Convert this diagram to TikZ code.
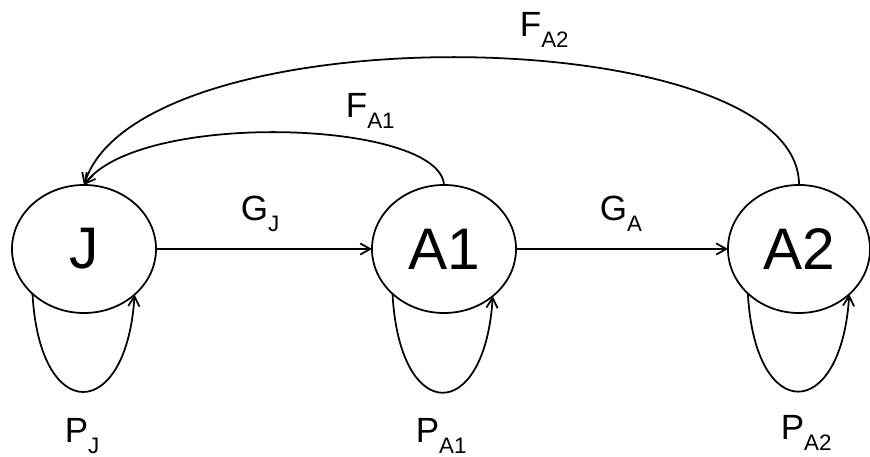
\documentclass[tikz,border=0pt]{standalone}
\usepackage{fontspec}
\setmainfont{Liberation Sans}
\usetikzlibrary{arrows.meta, shapes.geometric}

\newcommand{\subtxt}[2]{#1\raisebox{-7.5pt}{\fontsize{15.9}{16}\selectfont #2}}

\begin{document}
\begin{tikzpicture}[x=0.025cm, y=-0.025cm, line width=1.25pt,
    state/.style={ellipse, draw, minimum width=3.6cm, minimum height=3.2cm,
      inner sep=0pt, outer sep=0pt, font=\fontsize{41.7}{42}\selectfont},
    flow/.style={-{Straight Barb[length=2.5mm,width=2.8mm]}},
    lbl/.style={anchor=base west, inner sep=0pt, font=\fontsize{24.9}{25}\selectfont}]

\useasboundingbox (0,0) rectangle (870,457);

% Stages
\node[state] (J) at (84,249) {J};
\node[state] (A1) at (444,249) {A1};
\node[state, minimum width=3.55cm] (A2) at (799,249) {A2};

% Growth between stages
\draw[flow] (J.east) -- (A1.west);
\draw[flow] (A1.east) -- (A2.west);
\node[lbl] (gj) at (240,221) {\subtxt{G}{J}};
\node[lbl] (ga) at (599,221) {\subtxt{G}{A}};

% Fecundity back to J
\draw[flow] (A1.90) .. controls (440,120) and (140,110) .. (J.90);
\draw[flow] (A2.90) .. controls (800,20) and (140,10) .. (J.90);
\node[lbl] (fa1) at (345,118) {\subtxt{F}{A1}};
\node[lbl] (fa2) at (519,37) {\subtxt{F}{A2}};

% Stasis loops
\draw[flow] (J.221) .. controls +(7,132) and +(-8,128) .. (J.318);
\draw[flow] (A1.221) .. controls +(7,132) and +(-8,128) .. (A1.316);
\draw[flow] (A2.221) .. controls +(7,132) and +(-8,128) .. (A2.318);
\node[lbl] (pj) at (64,443) {\subtxt{P}{J}};
\node[lbl] (pa1) at (415,443) {\subtxt{P}{A1}};
\node[lbl] (pa2) at (780,440) {\subtxt{P}{A2}};

\end{tikzpicture}
\end{document}
